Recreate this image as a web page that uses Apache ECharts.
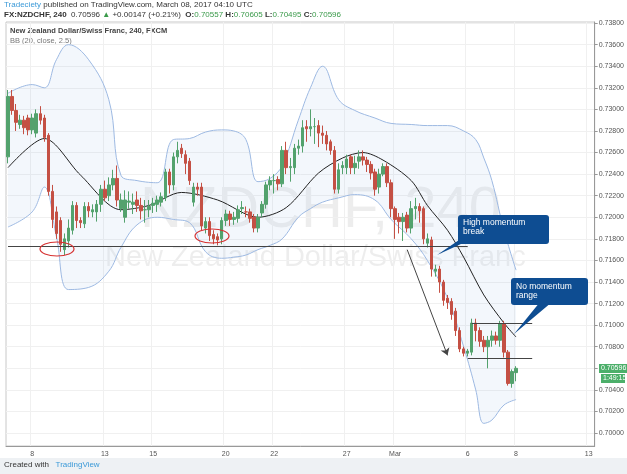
<!DOCTYPE html>
<html>
<head>
<meta charset="utf-8">
<script src="https://cdn.jsdelivr.net/npm/echarts@6/dist/echarts.min.js"></script>
<style>
html,body{margin:0;padding:0;background:#fff;font-family:"Open Sans",sans-serif;}
#main{width:627px;height:474px;}
</style>
</head>
<body>
<div id="main"></div>
<script>
var chart = echarts.init(document.getElementById('main'));

// 240 min candles, [open, close, low, high]
var candles = [
  [0.7256,0.7312,0.7250,0.7318],[0.7312,0.7299,0.7295,0.7318],[0.7299,0.7288,0.7280,0.7305],[0.7286,0.7290,0.7282,0.7295],
  [0.7290,0.7283,0.7277,0.7294],[0.7292,0.7281,0.7276,0.7295],[0.7281,0.7292,0.7277,0.7296],[0.7278,0.7296,0.7274,0.7300],
  [0.7296,0.7290,0.7286,0.7303],[0.7292,0.7274,0.7270,0.7295],[0.7276,0.7224,0.7220,0.7278],[0.7224,0.7198,0.7190,0.7230],
  [0.7205,0.7185,0.7180,0.7210],[0.7197,0.7175,0.7168,0.7200],[0.7170,0.7180,0.7165,0.7185],[0.7178,0.7190,0.7172,0.7198],
  [0.7188,0.7211,0.7184,0.7215],[0.7211,0.7197,0.7190,0.7214],[0.7197,0.7195,0.7190,0.7200],[0.7194,0.7210,0.7190,0.7214],
  [0.7210,0.7206,0.7200,0.7214],[0.7205,0.7207,0.7200,0.7212],[0.7205,0.7212,0.7196,0.7216],[0.7212,0.7226,0.7205,0.7230],
  [0.7226,0.7218,0.7215,0.7234],[0.7220,0.7230,0.7215,0.7237],[0.7230,0.7236,0.7225,0.7244],[0.7236,0.7216,0.7210,0.7248],
  [0.7208,0.7216,0.7205,0.7222],[0.7200,0.7216,0.7195,0.7225],[0.7214,0.7215,0.7208,0.7224],[0.7212,0.7214,0.7203,0.7222],
  [0.7216,0.7211,0.7205,0.7224],[0.7211,0.7206,0.7198,0.7218],[0.7207,0.7207,0.7195,0.7216],[0.7207,0.7210,0.7200,0.7216],
  [0.7211,0.7213,0.7204,0.7218],[0.7212,0.7216,0.7205,0.7220],[0.7214,0.7219,0.7210,0.7223],[0.7218,0.7242,0.7215,0.7245],
  [0.7242,0.7230,0.7222,0.7245],[0.7230,0.7256,0.7225,0.7260],[0.7256,0.7262,0.7250,0.7270],[0.7264,0.7259,0.7255,0.7268],
  [0.7258,0.7250,0.7240,0.7262],[0.7252,0.7234,0.7230,0.7255],[0.7214,0.7228,0.7210,0.7232],[0.7228,0.7226,0.7220,0.7232],
  [0.7228,0.7192,0.7188,0.7232],[0.7190,0.7196,0.7185,0.7200],[0.7196,0.7183,0.7178,0.7200],[0.7184,0.7180,0.7175,0.7188],
  [0.7182,0.7179,0.7174,0.7185],[0.7180,0.7197,0.7175,0.7200],[0.7197,0.7203,0.7192,0.7207],[0.7203,0.7198,0.7192,0.7206],
  [0.7198,0.7200,0.7193,0.7205],[0.7199,0.7207,0.7195,0.7211],[0.7208,0.7209,0.7203,0.7215],[0.7205,0.7205,0.7200,0.7210],
  [0.7205,0.7199,0.7195,0.7208],[0.7200,0.7190,0.7186,0.7203],[0.7190,0.7200,0.7186,0.7203],[0.7204,0.7212,0.7200,0.7215],
  [0.7212,0.7230,0.7208,0.7233],[0.7230,0.7234,0.7225,0.7238],[0.7234,0.7234,0.7222,0.7240],[0.7235,0.7231,0.7225,0.7238],
  [0.7231,0.7262,0.7228,0.7266],[0.7262,0.7246,0.7240,0.7270],[0.7246,0.7247,0.7233,0.7255],[0.7246,0.7264,0.7240,0.7268],
  [0.7264,0.7266,0.7258,0.7272],[0.7266,0.7283,0.7260,0.7290],[0.7284,0.7282,0.7270,0.7290],[0.7282,0.7284,0.7275,0.7300],
  [0.7284,0.7284,0.7268,0.7292],[0.7285,0.7278,0.7265,0.7290],[0.7278,0.7276,0.7268,0.7285],[0.7276,0.7268,0.7262,0.7280],
  [0.7270,0.7262,0.7258,0.7272],[0.7262,0.7226,0.7222,0.7266],[0.7226,0.7244,0.7222,0.7250],[0.7246,0.7248,0.7240,0.7252],
  [0.7246,0.7254,0.7240,0.7258],[0.7256,0.7246,0.7240,0.7258],[0.7246,0.7250,0.7240,0.7257],[0.7252,0.7256,0.7245,0.7262],
  [0.7256,0.7253,0.7248,0.7262],[0.7253,0.7249,0.7242,0.7256],[0.7249,0.7241,0.7235,0.7252],[0.7242,0.7226,0.7220,0.7245],
  [0.7228,0.7240,0.7222,0.7245],[0.7240,0.7247,0.7238,0.7250],[0.7247,0.7232,0.7228,0.7250],[0.7232,0.7208,0.7200,0.7235],
  [0.7208,0.7198,0.7180,0.7210],[0.7200,0.7196,0.7185,0.7204],[0.7196,0.7200,0.7178,0.7204],[0.7202,0.7190,0.7186,0.7205],
  [0.7190,0.7208,0.7185,0.7215],[0.7208,0.7210,0.7198,0.7218],[0.7210,0.7206,0.7195,0.7213],[0.7208,0.7180,0.7175,0.7210],
  [0.7176,0.7180,0.7172,0.7185],[0.7179,0.7152,0.7145,0.7182],[0.7150,0.7152,0.7145,0.7156],[0.7152,0.7140,0.7130,0.7155],
  [0.7140,0.7123,0.7118,0.7142],[0.7125,0.7121,0.7115,0.7128],[0.7122,0.7110,0.7105,0.7125],[0.7113,0.7095,0.7090,0.7116],
  [0.7095,0.7078,0.7075,0.7098],[0.7078,0.7074,0.7071,0.7080],[0.7074,0.7076,0.7071,0.7078],[0.7075,0.7102,0.7072,0.7106],
  [0.7102,0.7095,0.7085,0.7106],[0.7095,0.7085,0.7080,0.7098],[0.7086,0.7080,0.7075,0.7090],[0.7080,0.7086,0.7060,0.7090],
  [0.7086,0.7090,0.7080,0.7095],[0.7090,0.7086,0.7082,0.7094],[0.7086,0.7101,0.7080,0.7104],[0.7101,0.7075,0.7070,0.7104],
  [0.7075,0.7046,0.7044,0.7077],[0.7046,0.7057,0.7042,0.7059],[0.7056,0.7060,0.7048,0.7062]
];

// Bollinger band (20, close, 2.5) read at these candle indices
var bandIdx   = [0,6,9,12,15,20,25,28,32,37,41,45,49,53,56,59,62,65,68,72,75,78,82,86,91,95,100,104,109,113,116,118,120,123,126];
var bandUpper = [0.7315,0.7323,0.7320,0.7346,0.7360,0.7346,0.7309,0.7239,0.7234,0.7232,0.7272,0.7273,0.7279,0.7281,0.7280,0.7272,0.7233,0.7236,0.7248,0.7290,0.7320,0.7340,0.7309,0.7299,0.7292,0.7287,0.7286,0.7285,0.7285,0.7280,0.7272,0.7255,0.7234,0.7188,0.7151];
var bandLower = [0.7191,0.7205,0.7228,0.7182,0.7133,0.7135,0.7150,0.7172,0.7193,0.7200,0.7198,0.7195,0.7168,0.7162,0.7163,0.7165,0.7170,0.7174,0.7180,0.7200,0.7208,0.7214,0.7218,0.7221,0.7216,0.7198,0.7180,0.7160,0.7125,0.7080,0.7040,0.7009,0.7012,0.7026,0.7031];
var basisIdx  = [0,9,18,28,35,43,52,62,69,77,83,88,93,100,104,109,113,118,123,126];
var basisVal  = [0.7246,0.7273,0.7239,0.7207,0.7211,0.7223,0.7216,0.7200,0.7209,0.7241,0.7255,0.7260,0.7253,0.7234,0.7211,0.7188,0.7163,0.7128,0.7102,0.7089];

// x axis: 146 slots, date labels at these slots
var slotCount = 146;
var labelIdx  = [6,24,36,54,66,84,96,114,126,144];
var labelText = ['8','13','15','20','22','27','Mar','6','8','13'];
var priceTicks = [0.700,0.702,0.704,0.706,0.708,0.710,0.712,0.714,0.716,0.718,0.720,0.722,0.724,0.726,0.728,0.730,0.732,0.734,0.736,0.738];

var cats = [];
for (var i = 0; i < slotCount; i++) cats.push('');
labelIdx.forEach(function (k, j) { cats[k] = labelText[j]; });

function pairs(idx, vals) {
    return idx.map(function (k, j) { return [k, vals[j]]; });
}
var bandWidth = bandIdx.map(function (k, j) { return [k, +(bandUpper[j] - bandLower[j]).toFixed(4)]; });

var blue = '#9db9e2';
var option = {
    animation: false,
    grid: {left: 6, right: 29, top: 22, bottom: 28, show: true, borderColor: '#c8c8c8', borderWidth: 1},
    xAxis: {
        type: 'category', data: cats, boundaryGap: true,
        axisLine: {lineStyle: {color: '#999'}},
        axisTick: {interval: function (i, v) { return v !== ''; }, lineStyle: {color: '#999'}},
        axisLabel: {interval: function (i, v) { return v !== ''; }, fontSize: 7, color: '#555', margin: 5},
        splitLine: {show: true, interval: function (i, v) { return v !== ''; }, lineStyle: {color: '#f0f0f0'}}
    },
    yAxis: {
        type: 'value', position: 'right', min: 0.6988, max: 0.7381, scale: true,
        axisLine: {show: true, lineStyle: {color: '#999'}},
        axisTick: {show: true, customValues: priceTicks, length: 3},
        axisLabel: {customValues: priceTicks, fontSize: 7, color: '#555', margin: 4,
            formatter: function (v) { return v.toFixed(5); }},
        splitLine: {show: true, lineStyle: {color: '#f0f0f0'}}
    },
    graphic: [
        {type: 'text', left: 4, top: 1, style: {text: '{a|Tradeciety} published on TradingView.com, March 08, 2017 04:10 UTC', fontSize: 8, fill: '#333', rich: {a: {fill: '#3c9ad8', fontSize: 8}}}},
        {type: 'text', left: 4, top: 11, style: {text: '{b|FX:NZDCHF, 240}  0.70596 {g|▲} +0.00147 (+0.21%)  {b|O:}{g|0.70557} {b|H:}{g|0.70605} {b|L:}{g|0.70495} {b|C:}{g|0.70596}', fontSize: 8, fill: '#333',
            rich: {b: {fontWeight: 'bold', fontSize: 8, fill: '#333'}, g: {fill: '#3a9a4a', fontSize: 8}}}},
        {type: 'text', left: 10, top: 27, style: {text: 'New Zealand Dollar/Swiss Franc, 240, FXCM', fontSize: 7.5, fill: '#444', fontWeight: 'bold'}},
        {type: 'text', left: 10, top: 37, style: {text: 'BB (20, close, 2.5)', fontSize: 7.5, fill: '#777'}},
        {type: 'text', left: 140, top: 182, z: 0, style: {text: 'NZDCHF, 240', fontSize: 58, fill: 'rgba(0,0,0,0.07)'}},
        {type: 'text', left: 105, top: 243, z: 0, style: {text: 'New Zealand Dollar/Swiss Franc', fontSize: 29, fill: 'rgba(0,0,0,0.07)'}},
        {type: 'ellipse', shape: {cx: 57, cy: 249, rx: 17, ry: 7}, style: {fill: 'none', stroke: '#d63030', lineWidth: 1.2}, z: 10},
        {type: 'ellipse', shape: {cx: 212, cy: 236, rx: 17, ry: 7}, style: {fill: 'none', stroke: '#d63030', lineWidth: 1.2}, z: 10},
        {type: 'polygon', shape: {points: [[462, 238], [474, 238], [437, 255]]}, style: {fill: '#0e4d92'}, z: 10},
        {type: 'rect', shape: {x: 458, y: 215, width: 91, height: 29, r: 3}, style: {fill: '#0e4d92'}, z: 10},
        {type: 'text', left: 463, top: 218, z: 11, style: {text: 'High momentum\nbreak', fontSize: 8.5, fill: '#fff', lineHeight: 9}},
        {type: 'polygon', shape: {points: [[540, 302], [552, 302], [514, 334]]}, style: {fill: '#0e4d92'}, z: 10},
        {type: 'rect', shape: {x: 511, y: 278, width: 77, height: 27, r: 3}, style: {fill: '#0e4d92'}, z: 10},
        {type: 'text', left: 516, top: 282, z: 11, style: {text: 'No momentum\nrange', fontSize: 8.5, fill: '#fff', lineHeight: 9}},
        {type: 'rect', shape: {x: 599, y: 364, width: 28, height: 9}, style: {fill: '#4caf6a'}, z: 10},
        {type: 'text', left: 601, top: 365, z: 11, style: {text: '0.70596', fontSize: 7, fill: '#fff'}},
        {type: 'rect', shape: {x: 601, y: 374, width: 24, height: 9}, style: {fill: '#4caf6a'}, z: 10},
        {type: 'text', left: 603, top: 375, z: 11, style: {text: '1:49:15', fontSize: 7, fill: '#fff'}},
        {type: 'rect', shape: {x: 0, y: 458, width: 627, height: 16}, style: {fill: '#eef1f4'}, z: 0},
        {type: 'text', left: 4, top: 461, z: 1, style: {text: 'Created with   {t|TradingView}', fontSize: 8, fill: '#333', rich: {t: {fill: '#3c9ad8', fontSize: 8}}}}
    ],
    series: [
        {type: 'line', data: pairs(bandIdx, bandLower), stack: 'bb', smooth: 0.4, symbol: 'none',
            lineStyle: {color: blue, width: 1}, z: 1},
        {type: 'line', data: bandWidth, stack: 'bb', smooth: 0.4, symbol: 'none',
            lineStyle: {color: blue, width: 1}, areaStyle: {color: 'rgba(150,185,230,0.16)'}, z: 1},
        {type: 'line', data: pairs(basisIdx, basisVal), smooth: 0.3, symbol: 'none',
            lineStyle: {color: '#222', width: 1}, z: 3},
        {type: 'candlestick', data: candles.map(function (c) { return [c[0], c[1], c[2], c[3]]; }), barWidth: 3, z: 4,
            itemStyle: {color: '#53a26d', color0: '#c45044', borderColor: '#53a26d', borderColor0: '#c45044', borderWidth: 1},
            markLine: {
                symbol: ['none', 'none'], silent: true, animation: false,
                lineStyle: {color: '#444', width: 1, type: 'solid'}, label: {show: false},
                data: [
                    [{coord: [0, 0.7173]}, {coord: [114, 0.7173]}],
                    [{coord: [115, 0.71015]}, {coord: [130, 0.71015]}],
                    [{coord: [114, 0.7069]}, {coord: [130, 0.7069]}],
                    [{coord: [99, 0.7170], symbol: 'none'}, {coord: [109, 0.7072], symbol: 'arrow', symbolSize: 7}]
                ]
            }}
    ]
};
chart.setOption(option);
</script>
</body>
</html>
